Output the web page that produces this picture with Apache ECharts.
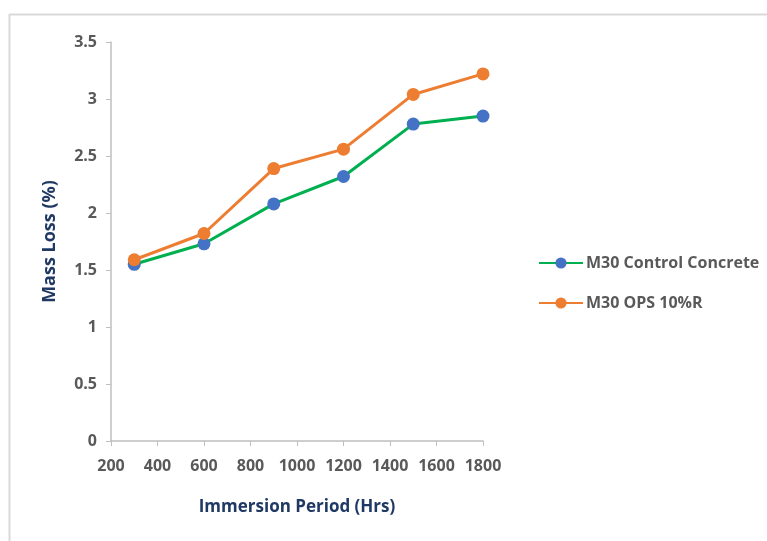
<!DOCTYPE html>
<html>
<head>
<meta charset="utf-8">
<script src="https://cdn.jsdelivr.net/npm/echarts@6/dist/echarts.min.js"></script>
<style>
  html, body { margin: 0; padding: 0; background: #fff; }
  #chart { width: 767px; height: 541px; }
</style>
</head>
<body>
<div id="chart"></div>
<script>
// immersion period (hrs)
const hours = [300, 600, 900, 1200, 1500, 1800]
// mass loss (%)
const controlLoss = [1.55, 1.73, 2.08, 2.32, 2.78, 2.85]
const opsLoss = [1.59, 1.82, 2.39, 2.56, 3.04, 3.22]

const seriesNames = ['M30 Control Concrete', 'M30 OPS 10%R']

const font = '"Open Sans", "Liberation Sans", sans-serif'

const chart = echarts.init(document.getElementById('chart'))

const option = {
  animation: false,
  backgroundColor: '#fff',
  textStyle: { fontFamily: font },
  // light frame at top/left like the pasted chart area
  graphic: [
    { type: 'line', shape: { x1: 9, y1: 14.5, x2: 767, y2: 14.5 }, style: { stroke: '#d9d9d9', lineWidth: 2 } },
    { type: 'line', shape: { x1: 9.5, y1: 14, x2: 9.5, y2: 541 }, style: { stroke: '#d9d9d9', lineWidth: 2 } }
  ],
  grid: { left: 111, right: 284, top: 42, bottom: 100 },
  legend: {
    orient: 'vertical',
    left: 533,
    top: 250,
    itemWidth: 44,
    itemHeight: 14,
    itemGap: 24,
    textStyle: { fontFamily: font, fontSize: 16, fontWeight: 'bold', color: '#595959', padding: [0, 0, 0, -2] },
    data: seriesNames
  },
  xAxis: {
    type: 'value',
    min: 200,
    max: 1800,
    interval: 200,
    name: 'Immersion Period (Hrs)',
    nameLocation: 'middle',
    nameGap: 58,
    nameTextStyle: { fontFamily: font, fontSize: 17, fontWeight: 'bold', color: '#1f3864' },
    axisLine: { lineStyle: { color: '#bfbfbf', width: 1.5 } },
    axisTick: { show: true, length: 5, lineStyle: { color: '#bfbfbf' } },
    axisLabel: { fontSize: 16, fontWeight: 'bold', color: '#595959', margin: 17, formatter: v => String(v) },
    splitLine: { show: false }
  },
  yAxis: {
    type: 'value',
    min: 0,
    max: 3.5,
    interval: 0.5,
    name: 'Mass Loss (%)',
    nameLocation: 'middle',
    nameGap: 52,
    nameTextStyle: { fontFamily: font, fontSize: 18, fontWeight: 'bold', color: '#1f3864' },
    axisLine: { show: true, lineStyle: { color: '#bfbfbf', width: 1.5 } },
    axisTick: { show: true, length: 5, lineStyle: { color: '#bfbfbf' } },
    axisLabel: { fontSize: 16, fontWeight: 'bold', color: '#595959', margin: 14 },
    splitLine: { show: false }
  },
  series: [
    {
      name: seriesNames[0],
      type: 'line',
      data: hours.map((h, i) => [h, controlLoss[i]]),
      symbol: 'circle',
      symbolSize: 13,
      lineStyle: { color: '#00b050', width: 3 },
      itemStyle: { color: '#4472c4' }
    },
    {
      name: seriesNames[1],
      type: 'line',
      data: hours.map((h, i) => [h, opsLoss[i]]),
      symbol: 'circle',
      symbolSize: 13,
      lineStyle: { color: '#ed7d31', width: 3 },
      itemStyle: { color: '#ed7d31' }
    }
  ]
}

chart.setOption(option)
</script>
</body>
</html>
